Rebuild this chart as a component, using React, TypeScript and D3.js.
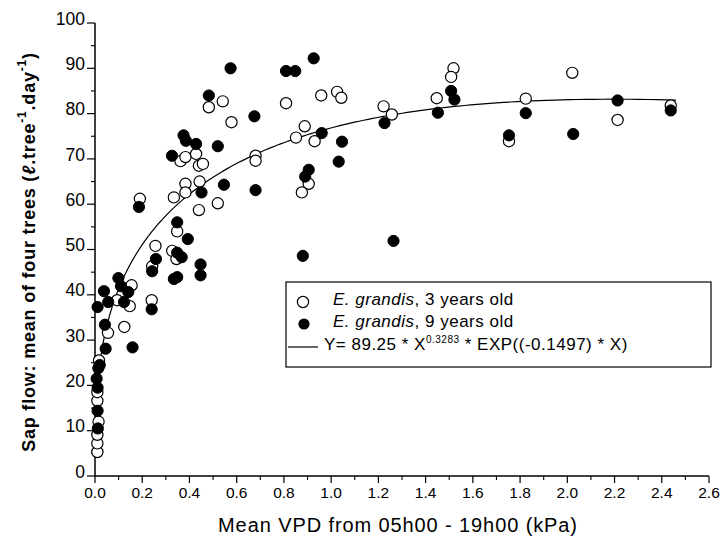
import React from "react";
import * as d3 from "d3";

const open3: [number, number][] = [
  [0.01, 5.3], [0.01, 7.2], [0.01, 9.1], [0.015, 12], [0.01, 16.6], [0.01, 18.5], [0.017, 25.5],
  [0.055, 31.6], [0.124, 32.9], [0.094, 38.8], [0.147, 37.5], [0.155, 42.1], [0.24, 38.8],
  [0.242, 46.3], [0.256, 50.8], [0.19, 61.2], [0.327, 49.7], [0.345, 47.9], [0.348, 54],
  [0.334, 61.5], [0.383, 64.5], [0.383, 62.6], [0.443, 65], [0.44, 58.7], [0.52, 60.2],
  [0.362, 69.5], [0.383, 70.4], [0.428, 71.1], [0.44, 68.5], [0.457, 68.9], [0.482, 81.4],
  [0.541, 82.7], [0.578, 78.1], [0.68, 70.7], [0.68, 69.6], [0.809, 82.3], [0.851, 74.7],
  [0.888, 77.2], [0.93, 73.9], [0.905, 64.5], [0.876, 62.6], [0.958, 84], [1.025, 84.8],
  [1.043, 83.5], [1.222, 81.6], [1.257, 79.8], [1.447, 83.4], [1.518, 90], [1.508, 88.1],
  [1.753, 73.9], [1.824, 83.3], [2.021, 89], [2.213, 78.6], [2.438, 81.8],
];

const filled9: [number, number][] = [
  [0.011, 37.3], [0.038, 40.8], [0.056, 38.4], [0.042, 33.4], [0.045, 28.1], [0.014, 23.8],
  [0.02, 24.5], [0.007, 21.5], [0.011, 19.5], [0.011, 14.4], [0.012, 10.5], [0.099, 43.7],
  [0.11, 41.9], [0.141, 40.6], [0.123, 38.4], [0.159, 28.4], [0.24, 36.8], [0.242, 45.2],
  [0.258, 47.9], [0.186, 59.4], [0.348, 56], [0.393, 52.3], [0.348, 49.3], [0.367, 48.3],
  [0.334, 43.5], [0.348, 43.9], [0.447, 46.7], [0.447, 44.3], [0.326, 70.7], [0.375, 75.2],
  [0.385, 74.0], [0.428, 73.3], [0.451, 62.6], [0.482, 84], [0.52, 72.8], [0.546, 64.3],
  [0.574, 90], [0.675, 79.4], [0.68, 63.1], [0.809, 89.4], [0.848, 89.4], [0.926, 92.2],
  [0.96, 75.7], [0.905, 67.6], [0.89, 66.1], [0.88, 48.6], [1.046, 73.8], [1.032, 69.4],
  [1.226, 77.9], [1.264, 51.9], [1.452, 80.2], [1.508, 85], [1.522, 83.1], [1.753, 75.2],
  [1.824, 80.1], [2.025, 75.5], [2.213, 82.9], [2.438, 80.7],
];

// Fitted curve parameters (from legend equation)
const fitA = 89.25;
const fitB = 0.3283;
const fitC = -0.1497;
const fitRange: [number, number] = [0.003, 2.46];

const xMajorTicks = d3.range(0, 2.61, 0.2);
const xMinorTicks = d3.range(0.1, 2.6, 0.2);
const yMajorTicks = d3.range(0, 101, 10);
const yMinorTicks = d3.range(5, 100, 10);

const FONT = "'Liberation Sans', Arial, sans-serif";

export default function App() {
  const x = d3.scaleLinear().domain([0, 2.6]).range([95, 709]);
  const y = d3.scaleLinear().domain([0, 100]).range([476, 23]);

  const curvePts: [number, number][] = d3
    .range(0, 401)
    .map((i) => {
      const t = i / 400;
      const X = fitRange[0] * Math.pow(fitRange[1] / fitRange[0], t);
      return [X, fitA * Math.pow(X, fitB) * Math.exp(fitC * X)] as [number, number];
    });
  const line = d3
    .line<[number, number]>()
    .x((d) => x(d[0]))
    .y((d) => y(d[1]))
    .curve(d3.curveLinear);

  const r = 5.6;

  return (
    <svg
      width={720}
      height={545}
      style={{ position: "absolute", left: 0, top: 0, background: "#fff" }}
      fontFamily={FONT}
    >
      <rect x={0} y={0} width={720} height={545} fill="#fff" />
      {/* Y axis */}
      <line x1={x(0)} x2={x(0)} y1={y(0)} y2={y(100)} stroke="#000" strokeWidth={1.5} />
      {yMajorTicks.map((t) => (
        <g key={"ym" + t}>
          <line x1={x(0) - 8} x2={x(0)} y1={y(t)} y2={y(t)} stroke="#000" strokeWidth={1.2} />
          <text x={x(0) - 10} y={y(t) - 3} textAnchor="end" dominantBaseline="middle" fontSize={17.5}>
            {t}
          </text>
        </g>
      ))}
      {yMinorTicks.map((t) => (
        <line key={"yn" + t} x1={x(0) - 4} x2={x(0)} y1={y(t)} y2={y(t)} stroke="#000" strokeWidth={1.1} />
      ))}
      {/* X axis */}
      <line x1={x(0)} x2={x(2.6)} y1={y(0)} y2={y(0)} stroke="#000" strokeWidth={1.5} />
      {xMajorTicks.map((t) => (
        <g key={"xm" + t.toFixed(1)}>
          <line x1={x(t)} x2={x(t)} y1={y(0)} y2={y(0) + 7} stroke="#000" strokeWidth={1.2} />
          <text x={x(t)} y={y(0) + 18} textAnchor="middle" dominantBaseline="middle" fontSize={15.5}>
            {t.toFixed(1)}
          </text>
        </g>
      ))}
      {xMinorTicks.map((t) => (
        <line key={"xn" + t.toFixed(1)} x1={x(t)} x2={x(t)} y1={y(0)} y2={y(0) + 4} stroke="#000" strokeWidth={1.1} />
      ))}

      {/* Axis titles */}
      <text x={398} y={527} textAnchor="middle" dominantBaseline="middle" fontSize={20} letterSpacing={0.9}>
        Mean VPD from 05h00 - 19h00 (kPa)
      </text>
      <text
        transform="translate(30,252) rotate(-90)"
        textAnchor="middle"
        dominantBaseline="middle"
        fontSize={18}
        fontWeight="bold"
        letterSpacing={0.8}
      >
        Sap flow: mean of four trees (
        <tspan fontStyle="italic">ℓ</tspan>.tree
        <tspan dy={-7} fontSize={12}>-1</tspan>
        <tspan dy={7}>.day</tspan>
        <tspan dy={-7} fontSize={12}>-1</tspan>
        <tspan dy={7}>)</tspan>
      </text>

      {/* Fit curve */}
      <path d={line(curvePts) || ""} fill="none" stroke="#000" strokeWidth={1.2} />

      {/* Data */}
      {open3.map((d, i) => (
        <circle key={"o" + i} cx={x(d[0])} cy={y(d[1])} r={r} fill="#fff" stroke="#000" strokeWidth={1.2} />
      ))}
      {filled9.map((d, i) => (
        <circle key={"f" + i} cx={x(d[0])} cy={y(d[1])} r={r} fill="#000" stroke="#000" strokeWidth={1} />
      ))}

      {/* Legend */}
      <rect x={286} y={282} width={425} height={85} fill="#fff" stroke="#000" strokeWidth={1.2} />
      <circle cx={303} cy={302} r={r} fill="#fff" stroke="#000" strokeWidth={1.2} />
      <text x={333} y={301} dominantBaseline="middle" fontSize={17} letterSpacing={0.5}>
        <tspan fontStyle="italic">E. grandis</tspan>, 3 years old
      </text>
      <circle cx={304} cy={324} r={r} fill="#000" />
      <text x={333} y={323} dominantBaseline="middle" fontSize={17} letterSpacing={0.5}>
        <tspan fontStyle="italic">E. grandis</tspan>, 9 years old
      </text>
      <line x1={288} x2={318} y1={347} y2={347} stroke="#000" strokeWidth={1.2} />
      <text x={324} y={346} dominantBaseline="middle" fontSize={17} letterSpacing={0.5}>
        Y= 89.25 * X<tspan dy={-6} fontSize={10}>0.3283</tspan>
        <tspan dy={6}> * EXP((-0.1497) * X)</tspan>
      </text>
    </svg>
  );
}
